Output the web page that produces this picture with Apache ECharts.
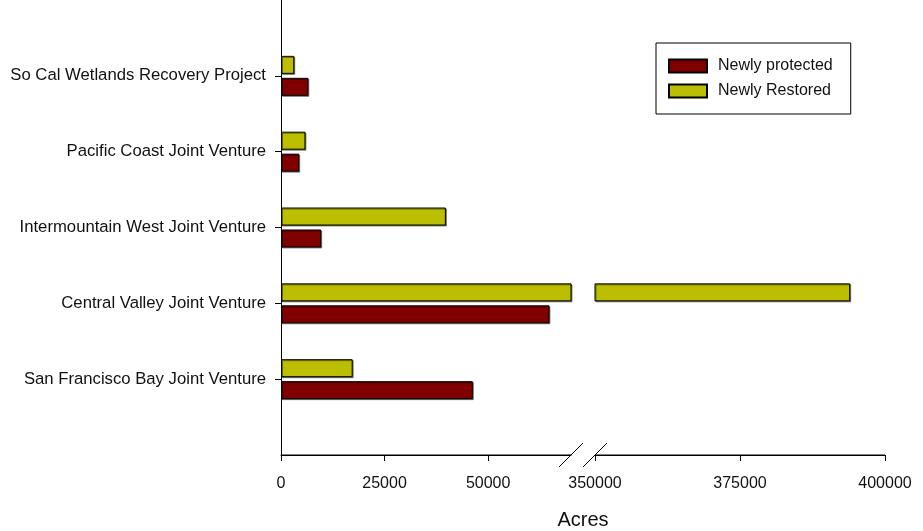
<!DOCTYPE html>
<html>
<head>
<meta charset="utf-8">
<script src="https://cdn.jsdelivr.net/npm/echarts@6/dist/echarts.min.js"></script>
<style>html,body{margin:0;padding:0;background:#fff}#c{width:923px;height:531px}</style>
</head>
<body>
<div id="c"></div>
<script>
// Data (bottom to top)
const categories = ['San Francisco Bay Joint Venture', 'Central Valley Joint Venture', 'Intermountain West Joint Venture', 'Pacific Coast Joint Venture', 'So Cal Wetlands Recovery Project'];
const newlyProtected = [46300, 64800, 9700, 4400, 6600];
const newlyRestored = [17300, 394000, 39800, 5900, 3200];
const leftTicks = [0, 25000, 50000];
const rightTicks = [350000, 375000, 400000];
const leftMax = 70000;
const rightMin = 350000, rightMax = 400000;

const FONT = "'Liberation Sans', Arial, sans-serif";
const RED = '#800000', GREEN = '#BBBF00';

const cats = [''].concat(categories, ['']);
const pad = arr => ['-'].concat(arr, ['-']);

const chart = echarts.init(document.getElementById('c'), null, {renderer: 'canvas'});

const barStyle = c => ({color: c, borderColor: '#000', borderWidth: 1, shadowColor: 'rgba(0,0,0,0.45)', shadowOffsetX: 1, shadowOffsetY: 1, shadowBlur: 0});

function yAxis(idx, show) {
  return {
    type: 'category', gridIndex: idx, data: cats, boundaryGap: false, show: show,
    axisLine: {show: show, lineStyle: {color: '#000', width: 1}},
    axisTick: {show: show, length: 6, interval: (i, v) => v !== '', lineStyle: {color: '#000'}},
    axisLabel: {show: show, interval: 0, margin: 15, fontFamily: FONT, fontSize: 16.7, color: '#111'},
    splitLine: {show: false}
  };
}
function xAxis(idx, min, max, ticks) {
  return {
    type: 'value', gridIndex: idx, min: min, max: max, interval: 25000, position: 'bottom',
    axisLine: {show: true, onZero: false, lineStyle: {color: '#000', width: 1}},
    axisTick: {show: true, length: 6, customValues: ticks, lineStyle: {color: '#000'}},
    axisLabel: {customValues: ticks, margin: 21, fontFamily: FONT, fontSize: 16, color: '#111', formatter: v => String(v)},
    splitLine: {show: false}
  };
}

const series = [];
[0, 1].forEach(g => {
  series.push({name: 'Newly Restored', type: 'bar', xAxisIndex: g, yAxisIndex: g, data: pad(newlyRestored), barWidth: 18, barGap: '22%', itemStyle: barStyle(GREEN), clip: true, silent: true});
  series.push({name: 'Newly protected', type: 'bar', xAxisIndex: g, yAxisIndex: g, data: pad(newlyProtected), barWidth: 18, barGap: '22%', itemStyle: barStyle(RED), clip: true, silent: true});
});

chart.setOption({
  animation: false,
  backgroundColor: '#fff',
  grid: [
    {left: 281, right: 352, top: 0, bottom: 76, containLabel: false},
    {left: 595, right: 38, top: 0, bottom: 76, containLabel: false}
  ],
  xAxis: [xAxis(0, 0, leftMax, leftTicks), xAxis(1, rightMin, rightMax, rightTicks)],
  yAxis: [yAxis(0, true), yAxis(1, false)],
  legend: {
    data: ['Newly protected', 'Newly Restored'], orient: 'vertical', left: 656, top: 43,
    padding: [15, 18, 15, 12], borderColor: '#000', borderWidth: 1, backgroundColor: '#fff',
    itemWidth: 38, itemHeight: 13, itemGap: 9, icon: 'rect',
    textStyle: {fontFamily: FONT, fontSize: 16, color: '#111', padding: [0, 0, 0, 6]},
    selectedMode: false
  },
  series: series
});

// Axis lines (drawn explicitly), break marks and axis title
const x0 = chart.convertToPixel({xAxisIndex: 0}, 0);
const xEnd = chart.convertToPixel({xAxisIndex: 0}, leftMax);
const xStart = chart.convertToPixel({xAxisIndex: 1}, rightMin);
const xRight = chart.convertToPixel({xAxisIndex: 1}, rightMax);
const yBase = chart.convertToPixel({yAxisIndex: 0}, 0);
const hline = (a, b) => ({type: 'polygon', shape: {points: [[a, yBase - 0.6], [b, yBase - 0.6], [b, yBase + 0.6], [a, yBase + 0.6]]}, style: {fill: '#000'}, silent: true, z: 100});
const slash = cx => ({type: 'line', shape: {x1: cx - 12, y1: yBase + 12, x2: cx + 12, y2: yBase - 12}, style: {stroke: '#000', lineWidth: 1}, silent: true, z: 100});
chart.setOption({
  graphic: [
    hline(x0, xEnd), hline(xStart, xRight),
    slash(xEnd), slash(xStart),
    {type: 'text', x: (x0 + xRight) / 2, y: 520, silent: true,
     style: {text: 'Acres', fontFamily: FONT, fontSize: 20, fill: '#111', align: 'center', verticalAlign: 'middle'}}
  ]
});
</script>
</body>
</html>
